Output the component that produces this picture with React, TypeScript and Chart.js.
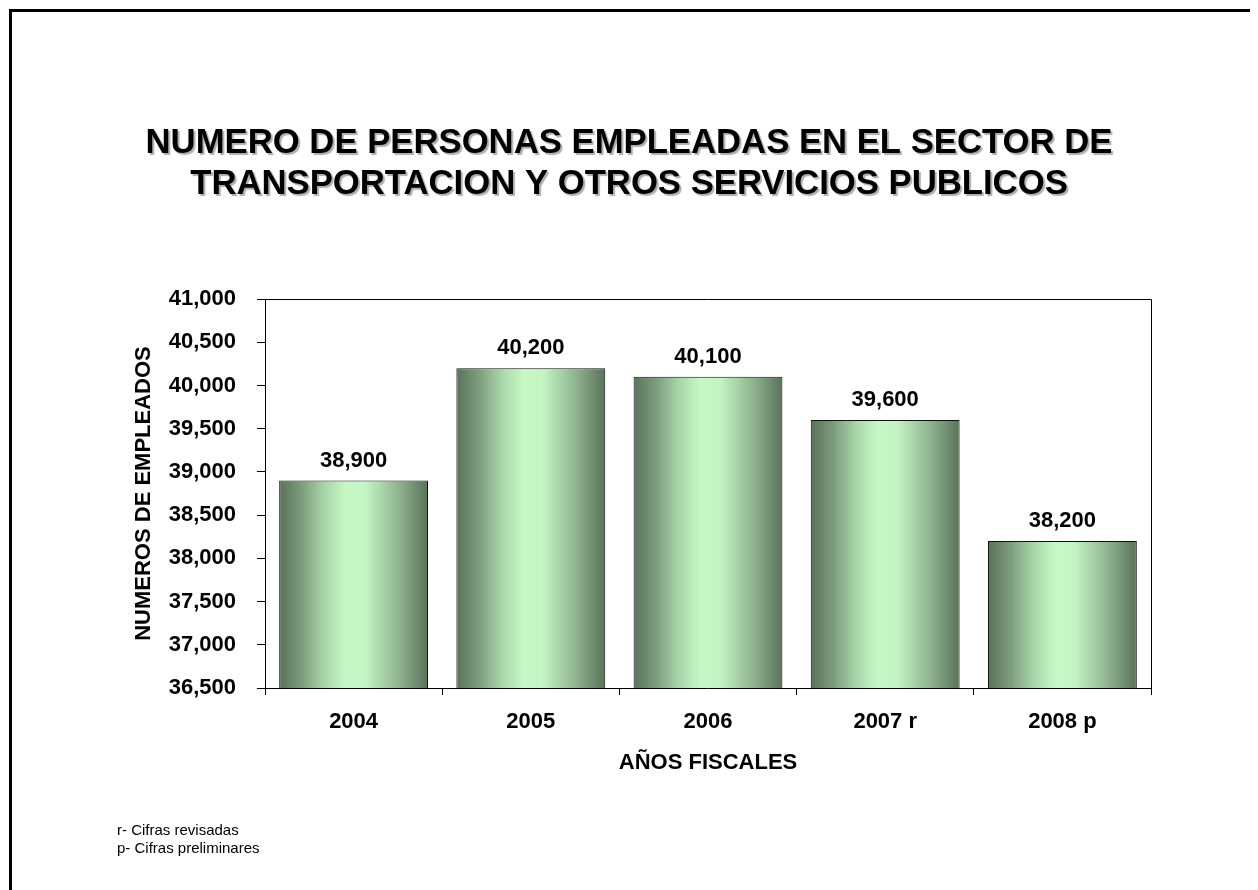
import React, { useEffect, useRef } from "react";
import { Chart, registerables } from "chart.js";

Chart.register(...registerables);

const categories = ["2004", "2005", "2006", "2007 r", "2008 p"];
const employees = [38900, 40200, 40100, 39600, 38200];
const yMin = 36500;
const yMax = 41000;
const yStep = 500;
const titleLines = [
  "NUMERO DE PERSONAS EMPLEADAS EN EL SECTOR DE",
  "TRANSPORTACION Y OTROS SERVICIOS PUBLICOS",
];
const yAxisTitle = "NUMEROS DE EMPLEADOS";
const xAxisTitle = "AÑOS FISCALES";
const footnotes = ["r- Cifras revisadas", "p- Cifras preliminares"];

const FONT = '"Liberation Sans", Arial, Helvetica, sans-serif';
const W = 1250;
const H = 882;
const BAR_PCT = 0.84;

const fmt = (v: number) => v.toLocaleString("en-US");

const gradientStops: [number, string][] = [
  [0, "#5a725a"],
  [0.15, "#7c9c7c"],
  [0.3, "#a8d4a8"],
  [0.45, "#c6f8c6"],
  [0.58, "#c4f4c4"],
  [0.8, "#90b490"],
  [1, "#5a725a"],
];

const decorPlugin = {
  id: "decor",
  afterDraw(chart: any) {
    const { ctx, chartArea } = chart;
    ctx.save();
    // frame top & right of plot area
    ctx.strokeStyle = "#000";
    ctx.lineWidth = 1;
    ctx.beginPath();
    ctx.moveTo(Math.round(chartArea.left) + 0.5, Math.round(chartArea.top) + 0.5);
    ctx.lineTo(Math.round(chartArea.right) + 0.5, Math.round(chartArea.top) + 0.5);
    ctx.lineTo(Math.round(chartArea.right) + 0.5, Math.round(chartArea.bottom) + 0.5);
    ctx.stroke();

    // title with shadow
    ctx.font = `bold 34.7px ${FONT}`;
    ctx.textAlign = "center";
    ctx.textBaseline = "middle";
    ctx.fillStyle = "#000";
    ctx.shadowColor = "rgba(120,120,120,0.6)";
    ctx.shadowOffsetX = 2;
    ctx.shadowOffsetY = 2;
    ctx.shadowBlur = 1;
    titleLines.forEach((t, i) => ctx.fillText(t, 621, 135 + i * 41));
    ctx.shadowColor = "transparent";
    ctx.shadowOffsetX = 0;
    ctx.shadowOffsetY = 0;
    ctx.shadowBlur = 0;

    // value labels
    const meta = chart.getDatasetMeta(0);
    ctx.font = `bold 22px ${FONT}`;
    meta.data.forEach((bar: any, i: number) => {
      ctx.fillText(fmt(employees[i]), bar.x, bar.y - 20);
    });

    // footnotes
    ctx.font = `15px ${FONT}`;
    ctx.textAlign = "left";
    footnotes.forEach((t, i) => ctx.fillText(t, 109, 823 + i * 18));
    ctx.restore();
  },
};

export default function App() {
  const ref = useRef<HTMLCanvasElement | null>(null);

  useEffect(() => {
    if (!ref.current) return;
    const chart = new Chart(ref.current, {
      type: "bar",
      data: {
        labels: categories,
        datasets: [
          {
            data: employees,
            barPercentage: BAR_PCT,
            categoryPercentage: 1,
            borderColor: "#111",
            borderWidth: 1,
            backgroundColor: (c: any) => {
              const ch = c.chart;
              const area = ch.chartArea;
              const xs = ch.scales.x;
              if (!area || !xs || c.dataIndex === undefined) return "#a8d4a8";
              const center = xs.getPixelForValue(c.dataIndex);
              const w = (area.width / categories.length) * BAR_PCT;
              const g = ch.ctx.createLinearGradient(center - w / 2, 0, center + w / 2, 0);
              gradientStops.forEach(([o, col]) => g.addColorStop(o, col));
              return g;
            },
          },
        ],
      },
      options: {
        responsive: false,
        animation: false,
        devicePixelRatio: 1,
        layout: { padding: { left: 100, top: 291, right: 107, bottom: 114 } },
        plugins: {
          legend: { display: false },
          tooltip: { enabled: false },
          title: { display: false },
        },
        scales: {
          x: {
            type: "category",
            grid: {
              offset: true,
              drawOnChartArea: false,
              drawTicks: true,
              tickLength: 7,
              color: "#000",
            },
            border: { display: true, color: "#000", width: 1 },
            ticks: {
              color: "#000",
              padding: 14,
              font: { family: FONT, size: 22, weight: "bold" },
              maxRotation: 0,
            },
            title: {
              display: true,
              text: xAxisTitle,
              color: "#000",
              font: { family: FONT, size: 22, weight: "bold" },
              padding: { top: 0, bottom: 0 },
            },
            afterFit: (s: any) => {
              s.height = 88;
            },
          },
          y: {
            min: yMin,
            max: yMax,
            grid: {
              drawOnChartArea: false,
              drawTicks: true,
              tickLength: 8,
              color: "#000",
            },
            border: { display: true, color: "#000", width: 1 },
            ticks: {
              stepSize: yStep,
              color: "#000",
              padding: 21,
              font: { family: FONT, size: 22, weight: "bold" },
              callback: (v: any) => fmt(Number(v)),
            },
            title: {
              display: true,
              text: yAxisTitle,
              color: "#000",
              font: { family: FONT, size: 22, weight: "bold" },
              padding: { top: 23, bottom: 0 },
            },
            afterFit: (s: any) => {
              s.width = 157;
            },
          },
        },
      },
      plugins: [decorPlugin],
    });
    return () => chart.destroy();
  }, []);

  return (
    <div style={{ position: "relative", width: W, height: H }}>
      <canvas ref={ref} width={W} height={H} style={{ display: "block", width: W, height: H }} />
      <div
        style={{
          position: "absolute",
          left: 1,
          top: 1,
          right: 0,
          bottom: 0,
          borderTop: "3px solid #000",
          borderLeft: "3px solid #000",
          pointerEvents: "none",
        }}
      />
    </div>
  );
}
